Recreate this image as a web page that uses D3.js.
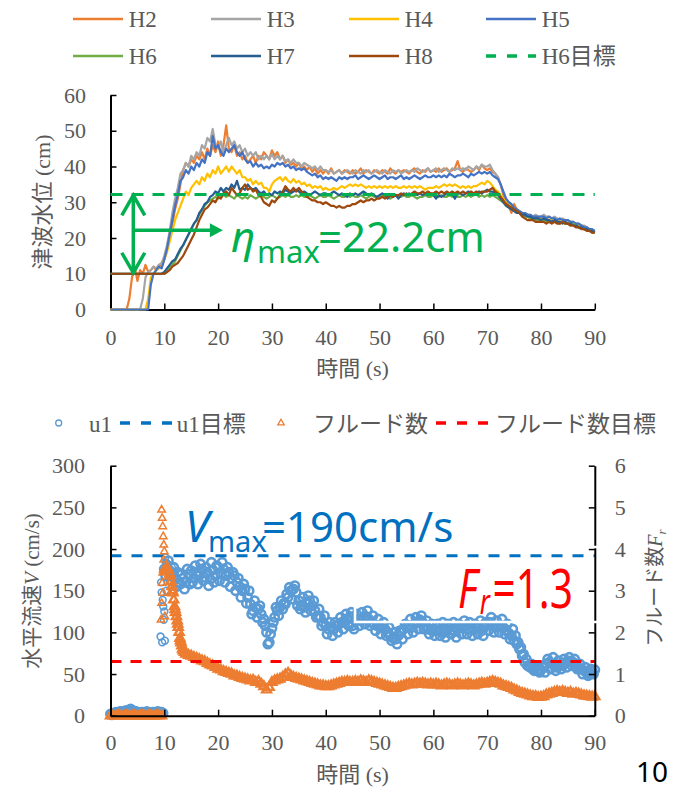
<!DOCTYPE html>
<html><head><meta charset="utf-8">
<script src="https://cdn.jsdelivr.net/npm/d3@7"></script>
<style>body{margin:0;background:#fff}svg{display:block}</style>
</head><body>
<svg id="c" width="677" height="790"></svg>
<script>
// ---------- DATA ----------
const timeStep = 0.5; // s between samples (t = 0 .. 90)
const xTicks = [0,10,20,30,40,50,60,70,80,90];
const yTopTicks = [0,10,20,30,40,50,60];
const yLeftTicks = [0,50,100,150,200,250,300];
const yRightTicks = [0,1,2,3,4,5,6];

const seriesNames = ["H2","H3","H4","H5","H6","H7","H8"];
const H2 = [
0,0,0,0,0,0,0,3,9,12,
8,11,10,12.5,10.5,11,12,11,12.5,12,
14,17,21,24,28,31,35,39,41,40,
42,41,43,42,44,42,45,43,46,44,
47,43,46,51.5,45,44,46,43,44,42,
43,41,42,43,41,43,42,44,43,42,
44.5,43,44,42,43,41,42,40.5,41,40,
41,39.5,40,39,40,38.5,39.5,38,39,38,
39,38,39.5,38,38.5,39,38,39,38.5,38,
39,38,38.5,39.5,38,39,38.5,38,39,38.5,
38,39,38.5,38,39.5,38.5,38,39,38.5,39,
38.5,38,39,39.5,38.5,38,39,38.5,39.5,38.5,
39,38.5,39.5,38.5,39,39.5,38.5,39,39.5,41.5,
39,38.5,39.5,39,38.5,39,40,39,40.5,39.5,
39,39.5,38.5,38,37,35,32,30,29,27,
29.5,28,27.5,27,26.5,26,25.5,25.5,25,25,
25,25.5,25,24.5,25,24.5,24.5,24,24.5,24,
24,23.5,24,23.5,23,23,22.5,22.5,22,21.5,
21.5];
const H3 = [
0,0,0,0,0,0,0,0,0,0,
0,0,3,9,10.5,11,12,11.5,12.5,13,
15,18,22,27,31,34,38,39,41,40,
43,42,44,43,46,45,48,47,50.5,46,
45,47,44,46,48,46,47,45,46,44,
45,43,44,43,44,42,43,42,43,42,
43.5,42,43,42,43,41.5,42,41,42,41,
41,40,41,40.5,40,39.5,40,39,40,39,
39,38.5,39,38,38.5,39,38,38.5,39,38.5,
38,39,38.5,38,39,38.5,39,38,38.5,39,
38.5,38,39,38.5,38,39,38.5,39,38,38.5,
39,38.5,39,38.5,39.5,39,38.5,39,39.5,38.5,
39,39.5,38.5,39,39.5,39,38.5,39.5,39,39.5,
39,39.5,39,40,39.5,39,40,39.5,40.5,40,
40,40.5,39,38,37,35,33,31,30,29,
28.5,28,27.5,27,27,26.5,26.5,26,26.5,26,
26,26.5,26,26,25.5,26,25.5,25,25.5,25,
25,24.5,24.5,24,24,23.5,23.5,23,22.5,22,
22];
const H4 = [
0,0,0,0,0,0,0,0,0,0,
0,0,0,0,3,9,10,11,11.5,12,
14,16,19,22,25,27,29,31,33,32,
34,35,36,35,37,36,38,37,39,38,
40,38,39,40,38.5,40,39,38,39,37,
37,36,36.5,35,36,35,35.5,34,34,33,
35,36,36.5,37,36,37,36,35.5,36.5,35.5,
36,35,35.5,34.5,35,34,34.5,34,34.5,33.5,
34,33.5,33.5,34,33.5,34,34.5,34,34.5,35,
34.5,35,34.5,35,34.5,34,34.5,34,34.5,34,
34.5,34,34.5,34,34.5,34,34.5,34,34,34.5,
34,34.5,34,34.5,34,34.5,34,33.5,34,34,
34,34.5,34,34.5,35,34.5,35,34.5,35,34.5,
34,34.5,34,34.5,34,34.5,34.5,35,35.5,35,
36,35.5,34.5,33.5,33,32,31,30,29.5,28.5,
28,27.5,27,26.5,26.5,26,26,25.5,25.5,25.5,
25.5,25,25.5,25,25,24.5,25,24.5,24.5,24,
24.5,24,24,23.5,23.5,23,23,22.5,22.5,22,
22];
const H5 = [
0,0,0,0,0,0,0,0,0,0,
0,0,0,0,0,7,10,11,12,11.5,
14,17,21,25,29,32,36,37,39,38,
40,39,41,40,42,41,44,43,48.5,45,
46,44,43,45,44,45,46,44,43,44,
42,41,41.5,40,41,40,40.5,39.5,40,39.5,
40.5,40,41,40.5,41,40,40.5,39.5,40,39,
39.5,39,39.5,38.5,38,37.5,38,37,37.5,36.5,
37,36.5,37,36.5,36,37,36.5,37,36.5,37,
37,37.5,36.5,37,37.5,37,36.5,37,37.5,37,
36.5,37,37.5,36.5,37,37,36.5,37,37.5,36.5,
37,36.5,37,37.5,37,36.5,37,37.5,37,37,
37.5,37,37.5,37,37.5,37,38,37.5,37,37.5,
37.5,38,37.5,37,38,37.5,38,38.5,38,38.5,
38,38.5,37.5,37,36.5,35,33,31,30,29.5,
28.5,28,27.5,27,27,26.5,26.5,26,26,26,
26,26,25.5,26,25.5,25.5,25,25.5,25,25,
25,24.5,24.5,24,24,23.5,23,23,22.5,22.5,
22];
const H6 = [
10,10,10,10,10,10,10,10,10,10,
10,10,10,10,10,10,10,10,10,10,
10,10.5,12,12.5,13.5,15,16.5,18,19.5,21,
22.5,24,25,26.5,28,29,30,30.5,31,31.5,
31,31.5,32,31.5,32,31.5,31,32,31.5,31,
31.5,31,32,31.5,31,31.5,32,31.5,31,31.5,
32,31.5,31,31.5,32,31.5,32,31.5,31.5,32,
31.5,32,31.5,31.5,32,31.5,31,31.5,32,31.5,
31.5,32,31.5,31,31.5,32,31.5,31.5,32,31.5,
32,31.5,31.5,32,31.5,31,31.5,32,31.5,31.5,
31.5,32,31.5,31.5,31,31.5,32,31.5,31.5,32,
31.5,31.5,32,31.5,31,31.5,31.5,32,31.5,31.5,
32,31.5,31.5,32,31.5,31.5,32,31.5,32,31.5,
31.5,32,31.5,32,31.5,32,32.2,31.5,32,31.5,
32,31.5,32,31.5,31,30.5,30,29.5,29,28.5,
28,27.5,27,26.5,26,26,25.5,25.5,25,25,
25,25,24.5,25,24.5,24.5,24.5,24,24.5,24,
24,23.5,24,23.5,23,23,22.5,22.5,22,22,
21.5];
const H7 = [
10,10,10,10,10,10,10,10,10,10,
10,10,10,10,10,10,10,10,10,10,
10.5,11.5,12.5,13.5,14,15.5,17,18,19.5,21,
22.5,24,25,27,28,29.5,30,31.5,32,33,
32.5,34,33,34,33.5,35,34,36,33.5,34,
33.5,35,34,33.5,34,33,32.5,33,32,32.5,
32,33,32.5,33,32.5,33.5,33,32.5,33,33.5,
33,32.5,33,32.5,32,32.5,33,32.5,32,32.5,
32.5,32,32.5,33,32.5,32,32.5,32,31.5,32.5,
32,32.5,32,32.5,33,32.5,32,32.5,32,31.5,
32,32.5,32,31,32,31.5,32,31,32,32.5,
32,32.5,32,32.5,32,32.5,32,32.5,32,32.5,
32,31,32,31.5,32,32.5,32,32.5,31,32.5,
32.5,32,32.5,33,32.5,32,32.5,33,32.5,33,
33.5,33,33,32.5,32,31,30,29,28.5,28,
27.5,27,27,26.5,26.5,26,26,25.5,25.5,25.5,
25,25.5,25,25,24.5,25,24.5,24.5,24,24.5,
24,24,23.5,23.5,23,23,22.5,22.5,22,22,
21.5];
const H8 = [
10,10,10,10,10,10,10,10,10,10,
10,10,10,10,10,10,10,10,10,10,
10,10.5,11,12,12.5,13,14,15,16.5,18,
19.5,21,23,25,26.5,28,28.5,29.5,30.5,30,
31.5,31,32.5,33,32,34,33,32,32.5,34,
35,33.5,34,33,33.5,32,31.5,30,29.5,29,
30.5,30,31,32,33,34.5,33.5,33,34,33,
34,33,32.5,31.5,31,30.5,30.5,30,30,29.5,
30,29.5,29,29,28.5,29,28.5,28.5,29,29,
29.5,29.5,30,30.5,30,30.5,30.5,31,30.5,31,
31,31.5,31,31.5,32,31.5,32,32,32.5,32,
32.5,32,32.5,33,32.5,32.5,33,32.5,33,32.5,
32.5,33,32.5,33,32.5,33,32.5,33,32.5,33,
32.5,33,32.5,32.5,33,32.5,33,32.5,33,33,
33,33.5,34,33,32.5,31.5,30.5,29.5,29,28.5,
28,27.5,27,26,25.5,25,25,25,24.5,24.5,
24.5,24.5,24,24.5,24,24.5,24,24,24.5,24,
24,23.5,23.5,23,23,22.5,22.5,22,22,21.5,
21.5];
const seriesColors = ["#ED7D31","#A5A5A5","#FFC000","#4472C4","#70AD47","#255E91","#9E480E"];
const H6Target = 32.2;      // cm
const etaMaxLabel = "=22.2cm";
const etaArrowBase = 10;    // cm
const etaArrowTime = 20.7;  // s, horizontal arrow tip
const etaArrowLevel = 22.2; // cm

// horizontal velocity u1 (cm/s), samples at t = 0, 0.5, ... 90
const u1 = [
2,3,4,3,5,4,6,7,5,4,
4,3,4,3,4,3,4,3,4,4,
176,180,174,170,165,172,158,165,160,170,
174,165,172,168,176,166,172,164,175,168,
178,170,176,168,172,165,168,160,155,150,
152,142,134,126,130,128,122,116,100,88,
105,118,126,130,128,134,142,150,152,148,
138,132,130,136,138,132,126,120,118,112,
108,104,106,104,108,110,112,114,116,119,
108,114,116,114,118,119,116,112,110,108,
107,105,104,100,96,93,92,96,100,104,
106,108,106,110,112,115,112,108,104,103,
104,102,103,104,100,103,106,103,101,104,
106,105,108,104,106,103,105,106,102,106,
110,112,108,106,107,108,106,103,99,96,
90,86,80,72,64,60,58,56,58,54,
55,58,62,64,63,60,58,61,60,63,
66,65,64,60,57,56,54,52,50,53,
55];
// u1 samples at t = 0.25, 0.75, ... 89.75
const u1Mid = [
1,2,3,5,4,6,5,8,6,5,
3,4,3,5,3,4,3,5,4,3,
168,186,162,178,155,160,170,152,176,158,
160,180,158,182,162,178,156,184,160,180,
162,184,160,178,155,172,150,165,142,158,
135,150,122,138,118,132,112,108,86,98,
112,130,120,138,135,146,154,140,156,132,
128,142,124,144,126,138,118,128,108,120,
98,112,96,112,100,118,104,122,108,124,
104,122,108,124,110,126,108,120,102,116,
98,112,96,106,90,100,86,102,92,110,
98,116,100,118,104,120,104,114,98,110,
96,110,96,112,94,110,98,112,94,110,
98,114,98,112,96,110,98,114,96,112,
102,118,100,114,100,116,98,110,92,104,
96,88,82,74,68,60,62,54,60,52,
60,52,68,56,70,54,66,56,68,58,
70,60,68,56,62,50,58,48,56,50];
const u1BurstTime = [9.3,9.4,9.5,9.6,9.7,9.8,9.9,10.0,10.1,10.2,10.3,10.4,10.6,10.8,11.2,11.4];
const u1BurstVal  = [95,160,148,88,139,131,115,125,90,190,184,150,182,172,166,178];
const u1Target = 192;
// Froude number Fr
const Fr = [
0,0,0,0,0,0,0,0,0,0,
0,0,0,0,0,0,0,0,0,0,
3.45,3.55,3.4,3.0,2.55,2.2,1.8,1.56,1.48,1.45,
1.43,1.4,1.38,1.35,1.32,1.3,1.26,1.22,1.2,1.16,
1.12,1.1,1.06,1.04,1.02,1.0,0.96,0.95,0.92,0.9,
0.88,0.86,0.84,0.85,0.8,0.82,0.76,0.7,0.62,0.68,
0.8,0.84,0.86,0.88,0.92,0.98,1.02,0.96,0.92,0.9,
0.88,0.86,0.84,0.82,0.8,0.78,0.76,0.74,0.72,0.72,
0.7,0.7,0.72,0.74,0.76,0.78,0.8,0.8,0.82,0.8,
0.8,0.82,0.8,0.84,0.82,0.8,0.84,0.82,0.8,0.78,
0.76,0.74,0.72,0.7,0.68,0.66,0.66,0.68,0.7,0.72,
0.74,0.76,0.74,0.76,0.78,0.76,0.78,0.76,0.74,0.76,
0.74,0.76,0.74,0.72,0.74,0.76,0.74,0.72,0.74,0.76,
0.74,0.72,0.74,0.76,0.74,0.72,0.74,0.76,0.78,0.76,
0.78,0.8,0.82,0.8,0.78,0.76,0.72,0.7,0.68,0.66,
0.62,0.6,0.56,0.54,0.52,0.5,0.48,0.46,0.46,0.44,
0.45,0.46,0.5,0.52,0.54,0.56,0.58,0.56,0.58,0.56,
0.54,0.56,0.52,0.54,0.52,0.5,0.48,0.47,0.46,0.45,
0.46];
const FrBurstTime = [9.4,9.5,9.5,9.6,9.6,9.7,9.7,9.8,9.8,9.9,9.9,10.0,10.1];
const FrBurstVal  = [2.3,4.94,2.7,4.74,3.18,4.54,2.94,4.3,3.5,4.1,3.74,3.94,2.38];
const FrDropTime = [10.25,10.75,11.1,11.25,11.4,11.6,11.75,11.9,12.1,12.25,12.4,12.6,12.75,12.9,13.1,13.25,13.4,13.75];
const FrDropVal  = [3.5,3.5,3.35,3.22,3.1,2.95,2.78,2.62,2.48,2.38,2.28,2.12,2.0,1.86,1.75,1.68,1.6,1.52];
const FrTarget = 1.3;

// ---------- DRAW ----------
const svg = d3.select("#c");
const SERIF = "Liberation Serif, Noto Sans CJK JP, serif";
const SANS = "Noto Sans, Noto Sans CJK JP, sans-serif";
const GREY = "#595959";
const tOf = i => i * timeStep;

function styleAxis(g){
  g.attr("font-family", SERIF).attr("font-size", 22);
  g.select(".domain").attr("stroke", "#000").attr("stroke-width", 2);
  g.selectAll(".tick line").attr("stroke", "#000").attr("stroke-width", 1.5);
  g.selectAll(".tick text").attr("fill", GREY).attr("font-family", SERIF).attr("font-size", 22);
}

// ===== Top legend =====
const legCols = [73, 211, 349, 486], legRows = [19, 56];
const legNames = seriesNames.concat(["H6目標"]);
const legColors = seriesColors.concat(["#00B050"]);
legNames.forEach((n, i) => {
  const lx = legCols[i % 4], ly = legRows[Math.floor(i / 4)];
  const ln = svg.append("line").attr("x1", lx).attr("x2", lx + 50).attr("y1", ly).attr("y2", ly)
    .attr("stroke", legColors[i]).attr("stroke-width", n === "H6目標" ? 3.5 : 2.5);
  if (n === "H6目標") ln.attr("stroke-dasharray", "10,11");
  svg.append("text").attr("x", lx + 55.7).attr("y", ly + 8).text(n)
    .attr("font-family", SERIF).attr("font-size", 23).attr("fill", GREY);
});

// ===== Top chart =====
const x1 = d3.scaleLinear().domain([0, 90]).range([110.5, 594.8]);
const y1 = d3.scaleLinear().domain([0, 60]).range([309.5, 95]);

const gx1 = svg.append("g").attr("transform", `translate(0,${y1(0)})`)
  .call(d3.axisBottom(x1).tickValues(xTicks).tickSizeInner(-6).tickSizeOuter(0).tickPadding(20).tickFormat(d3.format("d")));
styleAxis(gx1);
const gy1 = svg.append("g").attr("transform", `translate(${x1(0)},0)`)
  .call(d3.axisLeft(y1).tickValues(yTopTicks).tickSizeInner(-6).tickSizeOuter(0).tickPadding(24.5).tickFormat(d3.format("d")));
styleAxis(gy1);

const line1 = d3.line().x((d, i) => x1(tOf(i))).y(d => y1(d));
[H2, H3, H4, H5, H6, H7, H8].forEach((s, k) => {
  svg.append("path").datum(s).attr("d", line1).attr("fill", "none")
    .attr("stroke", seriesColors[k]).attr("stroke-width", 2.2).attr("stroke-linejoin", "round");
});
svg.append("line").attr("x1", x1(0)).attr("x2", x1(90)).attr("y1", y1(H6Target)).attr("y2", y1(H6Target))
  .attr("stroke", "#00B050").attr("stroke-width", 3).attr("stroke-dasharray", "12,9");

// arrows
const GREEN = "#00B050";
const ax = 133.3;
svg.append("line").attr("x1", ax).attr("x2", ax).attr("y1", y1(H6Target) + 2).attr("y2", y1(etaArrowBase) - 2)
  .attr("stroke", GREEN).attr("stroke-width", 3.5);
svg.append("path").attr("d", `M${ax-11.5},${y1(H6Target)+21} L${ax},${y1(H6Target)+1} L${ax+11.5},${y1(H6Target)+21}`)
  .attr("fill", "none").attr("stroke", GREEN).attr("stroke-width", 3.5).attr("stroke-linejoin", "miter");
svg.append("path").attr("d", `M${ax-11.5},${y1(etaArrowBase)-21} L${ax},${y1(etaArrowBase)-1} L${ax+11.5},${y1(etaArrowBase)-21}`)
  .attr("fill", "none").attr("stroke", GREEN).attr("stroke-width", 3.5).attr("stroke-linejoin", "miter");
const hy = y1(etaArrowLevel), hx2 = x1(etaArrowTime);
svg.append("line").attr("x1", ax).attr("x2", hx2 - 10).attr("y1", hy).attr("y2", hy)
  .attr("stroke", GREEN).attr("stroke-width", 3.5);
svg.append("path").attr("d", `M${hx2-12},${hy-7} L${hx2+1},${hy} L${hx2-12},${hy+7} Z`).attr("fill", GREEN);

const etaText = svg.append("text").attr("font-family", SANS).attr("fill", GREEN);
etaText.append("tspan").attr("x", 231).attr("y", 252).attr("font-size", 42).attr("font-style", "italic").text("η");
etaText.append("tspan").attr("x", 257).attr("y", 263).attr("font-size", 31).text("max");
etaText.append("tspan").attr("x", 318).attr("y", 252).attr("font-size", 42).text(etaMaxLabel);

// ===== Bottom legend =====
const BLUE = "#5B9BD5", ORANGE = "#ED7D31";
const lgY = 423;
svg.append("circle").attr("cx", 58.7).attr("cy", lgY).attr("r", 3).attr("fill", "none").attr("stroke", BLUE).attr("stroke-width", 1.3);
svg.append("text").attr("x", 89).attr("y", lgY + 8.5).text("u1").attr("font-family", SERIF).attr("font-size", 23).attr("fill", GREY);
svg.append("line").attr("x1", 120).attr("x2", 172).attr("y1", lgY).attr("y2", lgY).attr("stroke", "#0070C0").attr("stroke-width", 3.5).attr("stroke-dasharray", "10,11");
svg.append("text").attr("x", 176.7).attr("y", lgY + 8.5).text("u1目標").attr("font-family", SERIF).attr("font-size", 23).attr("fill", GREY);
svg.append("path").attr("d", d3.symbol(d3.symbolTriangle, 18)()).attr("transform", `translate(281,${lgY})`)
  .attr("fill", "none").attr("stroke", ORANGE).attr("stroke-width", 1.3);
svg.append("text").attr("x", 313).attr("y", lgY + 8.5).text("フルード数").attr("font-family", SANS).attr("font-size", 23).attr("fill", GREY);
svg.append("line").attr("x1", 436).attr("x2", 489).attr("y1", lgY).attr("y2", lgY).attr("stroke", "#FF0000").attr("stroke-width", 3.5).attr("stroke-dasharray", "10,11");
svg.append("text").attr("x", 495).attr("y", lgY + 8.5).text("フルード数目標").attr("font-family", SANS).attr("font-size", 23).attr("fill", GREY);

// ===== Bottom chart =====
const x2 = d3.scaleLinear().domain([0, 90]).range([110.5, 594.8]);
const y2 = d3.scaleLinear().domain([0, 300]).range([715.7, 465.7]);
const y2r = d3.scaleLinear().domain([0, 6]).range([715.7, 465.7]);

// u1 circles
const u1Pts = u1.map((v, i) => [tOf(i), v]).concat(u1Mid.map((v, i) => [tOf(i) + timeStep / 2, v]));
svg.append("g").selectAll("circle").data(u1Pts).join("circle")
  .attr("cx", d => x2(d[0])).attr("cy", d => y2(d[1])).attr("r", 4.2)
  .attr("fill", "none").attr("stroke", BLUE).attr("stroke-width", 2.6);
svg.append("g").selectAll("circle").data(u1BurstTime.map((t, i) => [t, u1BurstVal[i]])).join("circle")
  .attr("cx", d => x2(d[0])).attr("cy", d => y2(d[1])).attr("r", 3.4)
  .attr("fill", "none").attr("stroke", BLUE).attr("stroke-width", 1.6);
svg.append("line").attr("x1", x2(0)).attr("x2", x2(90)).attr("y1", y2(u1Target)).attr("y2", y2(u1Target))
  .attr("stroke", "#0070C0").attr("stroke-width", 3).attr("stroke-dasharray", "11,10");

// Fr triangles
const tri = d3.symbol(d3.symbolTriangle, 34)();
svg.append("g").selectAll("path").data(Fr.map((v, i) => [tOf(i), v]).concat(FrDropTime.map((t, i) => [t, FrDropVal[i]]))).join("path")
  .attr("d", tri).attr("transform", d => `translate(${x2(d[0])},${y2r(d[1])})`)
  .attr("fill", "none").attr("stroke", ORANGE).attr("stroke-width", 2.4);
const triS = d3.symbol(d3.symbolTriangle, 24)();
svg.append("g").selectAll("path").data(FrBurstTime.map((t, i) => [t, FrBurstVal[i]])).join("path")
  .attr("d", triS).attr("transform", d => `translate(${x2(d[0])},${y2r(d[1])})`)
  .attr("fill", "none").attr("stroke", ORANGE).attr("stroke-width", 1.5);
svg.append("line").attr("x1", x2(0)).attr("x2", x2(90)).attr("y1", y2r(FrTarget)).attr("y2", y2r(FrTarget))
  .attr("stroke", "#FF0000").attr("stroke-width", 3).attr("stroke-dasharray", "11,9");

const gx2 = svg.append("g").attr("transform", `translate(0,${y2(0)})`)
  .call(d3.axisBottom(x2).tickValues(xTicks).tickSizeInner(-6).tickSizeOuter(0).tickPadding(18.7).tickFormat(d3.format("d")));
styleAxis(gx2);
const gy2 = svg.append("g").attr("transform", `translate(${x2(0)},0)`)
  .call(d3.axisLeft(y2).tickValues(yLeftTicks).tickSizeInner(-6).tickSizeOuter(0).tickPadding(25.5).tickFormat(d3.format("d")));
styleAxis(gy2);
const gy2r = svg.append("g").attr("transform", `translate(${x2(90)},0)`)
  .call(d3.axisRight(y2r).tickValues(yRightTicks).tickSizeInner(-6).tickSizeOuter(0).tickPadding(20).tickFormat(d3.format("d")));
styleAxis(gy2r);

// white text-box border (as in the slide)
svg.append("rect").attr("x", 355).attr("y", 547).attr("width", 255).attr("height", 75)
  .attr("fill", "none").attr("stroke", "#fff").attr("stroke-width", 2.5);

// annotations
const vText = svg.append("text").attr("font-family", SANS).attr("fill", "#0070C0");
vText.append("tspan").attr("x", 185).attr("y", 541.7).attr("font-size", 44).attr("font-style", "italic").text("V");
vText.append("tspan").attr("x", 208).attr("y", 552).attr("font-size", 29).text("max");
vText.append("tspan").attr("x", 262).attr("y", 541.7).attr("font-size", 42).text("=190cm/s");

const fText = svg.append("text").attr("font-family", SANS).attr("fill", "#FF0000")
  .attr("transform", "translate(458,608) scale(0.75,1)");
fText.append("tspan").attr("x", 0).attr("y", 0).attr("font-size", 54).attr("font-style", "italic").text("F");
fText.append("tspan").attr("x", 29).attr("y", 6).attr("font-size", 34).attr("font-style", "italic").text("r");
fText.append("tspan").attr("x", 46).attr("y", 0).attr("font-size", 54).text("=1.3");

// axis titles
svg.append("text").attr("x", 352.6).attr("y", 376).attr("text-anchor", "middle")
  .attr("font-family", SERIF).attr("font-size", 22).attr("fill", GREY).text("時間 (s)");
svg.append("text").attr("x", 352.6).attr("y", 782).attr("text-anchor", "middle")
  .attr("font-family", SERIF).attr("font-size", 22).attr("fill", GREY).text("時間 (s)");
svg.append("text").attr("transform", "translate(42,202) rotate(-90)").attr("text-anchor", "middle").attr("dy", "0.35em")
  .attr("font-family", SERIF).attr("font-size", 22).attr("fill", GREY).text("津波水位 (cm)");
const lt = svg.append("text").attr("transform", "translate(32,591) rotate(-90)").attr("text-anchor", "middle").attr("dy", "0.35em")
  .attr("font-family", SERIF).attr("font-size", 21).attr("fill", GREY);
lt.append("tspan").text("水平流速");
lt.append("tspan").attr("font-style", "italic").text("V");
lt.append("tspan").text(" (cm/s)");
const rt = svg.append("text").attr("transform", "translate(655,588) rotate(-90)").attr("text-anchor", "middle").attr("dy", "0.35em")
  .attr("font-family", SERIF).attr("font-size", 20).attr("fill", GREY);
rt.append("tspan").attr("font-family", SANS).text("フルード数");
rt.append("tspan").attr("font-style", "italic").text("F");
rt.append("tspan").attr("font-style", "italic").attr("font-size", 13).attr("dy", 4).text("r");

// page number
svg.append("text").attr("x", 636).attr("y", 782).attr("font-family", SANS).attr("font-size", 28).attr("fill", "#000").text("10");
</script>
</body></html>
